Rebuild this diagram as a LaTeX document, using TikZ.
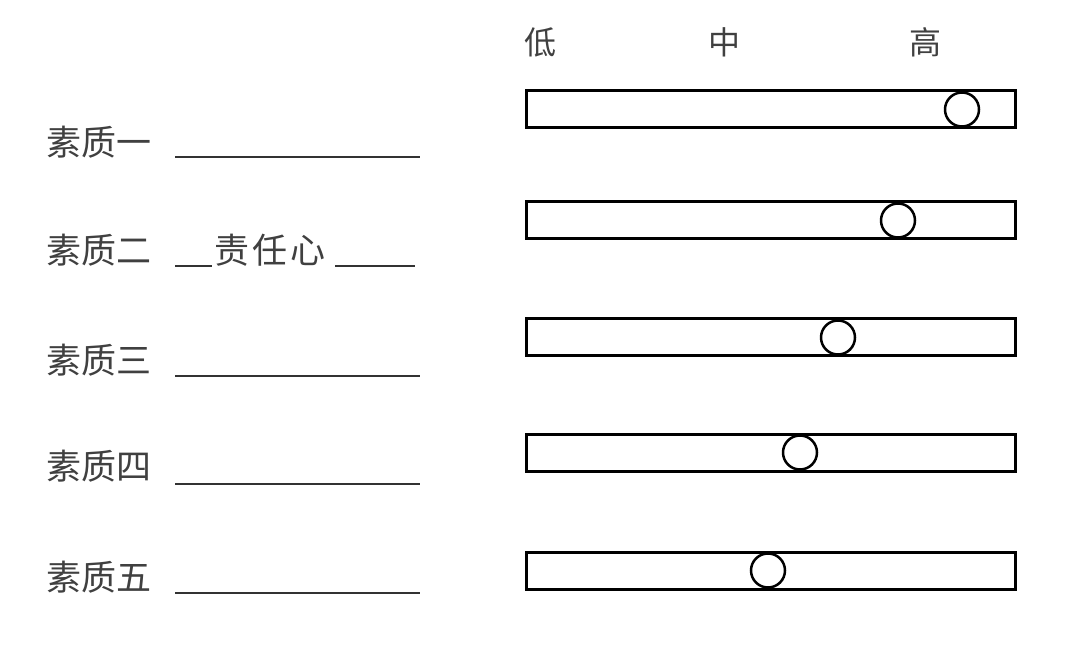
\documentclass[tikz,border=0pt]{standalone}
\usepackage{fontspec}
\newfontfamily\cjk{Noto Sans CJK SC}
\begin{document}
\begin{tikzpicture}[x=1pt,y=-1pt,
  bar/.style={draw=black,line width=3pt},
  knob/.style={circle,draw=black,line width=2.5pt,fill=white,minimum size=34pt,inner sep=0pt},
  lab/.style={font=\cjk\fontsize{35}{35}\selectfont,text=black!75,anchor=west,inner sep=0pt},
  head/.style={font=\cjk\fontsize{32}{32}\selectfont,text=black!75,inner sep=0pt},
  uline/.style={line width=1.2pt,black!80}]
\useasboundingbox (0,0) rectangle (1080,655);
\node[head] (lo) at (540,42) {低};
\node[head] (mid) at (724,42) {中};
\node[head] (hi) at (925,42) {高};
\foreach \i/\t/\yb/\cx/\ly in {1/一/91/962/142,2/二/202/898/250,3/三/319/838/360,4/四/434/800/466,5/五/552/768/577}{
  \draw[bar] (526,\yb) rectangle (1015,\yb+37);
  \node[knob] (k\i) at (\cx,\yb+18.5) {};
  \node[lab] (l\i) at (46,\ly) {素质\t};
}
\foreach \y in {157,376,484,593}{\draw[uline] (175,\y) -- (420,\y);}
\draw[uline] (175,266) -- (212,266);
\node[lab] (r2) at (214,250) {责\hspace{3pt}任\hspace{3pt}心};
\draw[uline] (335,266) -- (415,266);
\end{tikzpicture}
\end{document}
